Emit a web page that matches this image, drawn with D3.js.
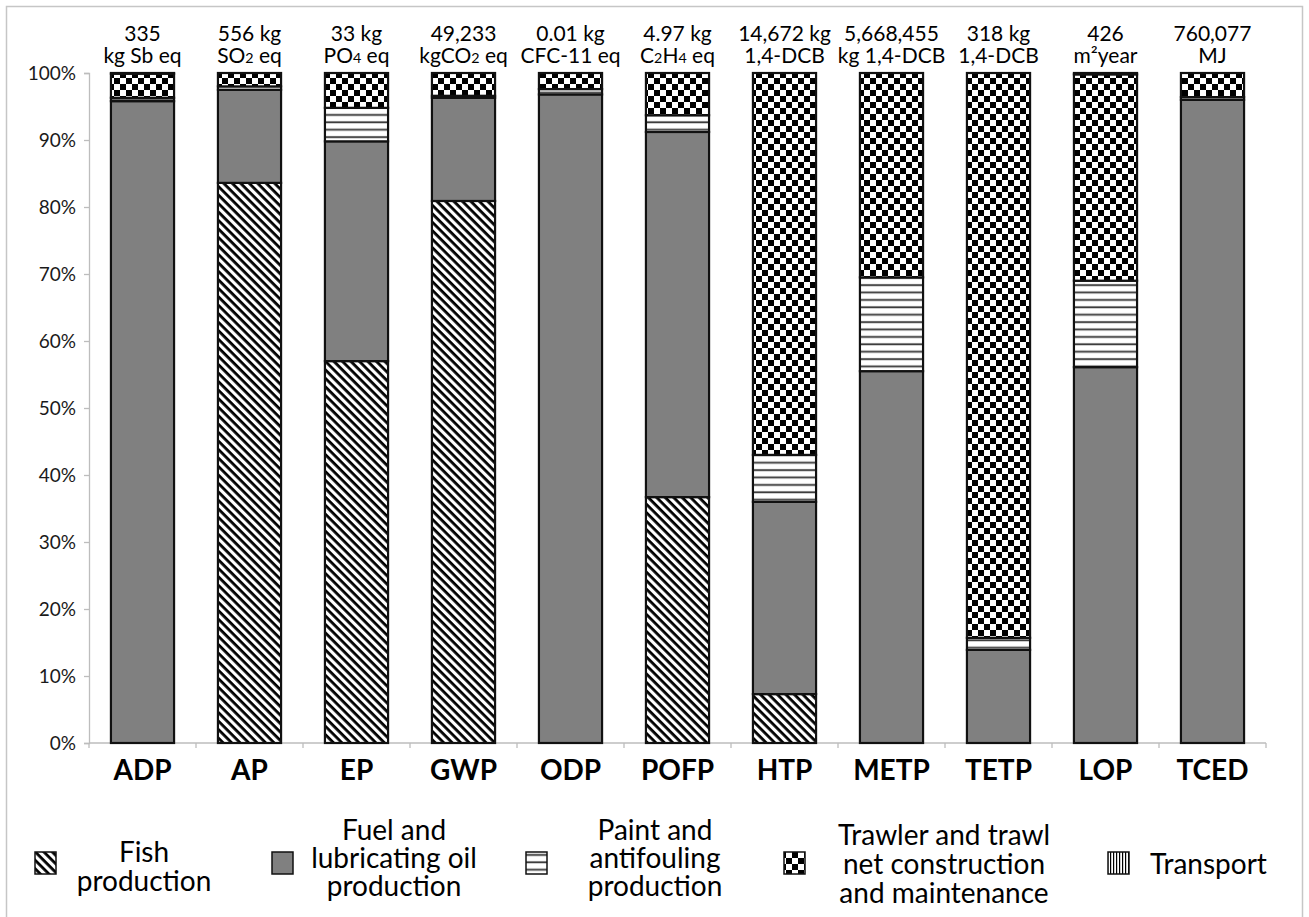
<!DOCTYPE html>
<html>
<head>
<meta charset="utf-8">
<script src="https://cdn.jsdelivr.net/npm/d3@7"></script>
<style>
  html, body { margin: 0; padding: 0; background: #fff; }
  svg { display: block; font-family: Lato, "Open Sans", sans-serif; }
</style>
</head>
<body>
<svg id="chart" width="1309" height="917"></svg>
<script>
// ---------------- data ----------------
const categories = ["ADP", "AP", "EP", "GWP", "ODP", "POFP", "HTP", "METP", "TETP", "LOP", "TCED"];
const totalLine1 = ["335", "556 kg", "33 kg", "49,233", "0.01 kg", "4.97 kg", "14,672 kg", "5,668,455", "318 kg", "426", "760,077"];
const totalLine2 = ["kg Sb eq", "SO₂ eq", "PO₄ eq", "kgCO₂ eq", "CFC-11 eq", "C₂H₄ eq", "1,4-DCB", "kg 1,4-DCB", "1,4-DCB", "m²year", "MJ"];

const seriesNames = ["Fish production", "Fuel and lubricating oil production", "Paint and antifouling production", "Trawler and trawl net construction and maintenance", "Transport"];
const fishProduction   = [0,    83.6, 57.0, 80.9, 0,    36.7, 7.3,  0,    0,    0,    0];
const fuelProduction   = [95.8, 13.9, 32.8, 15.4, 96.8, 54.5, 28.7, 55.5, 13.9, 56.1, 96.0];
const paintProduction  = [0.5,  0.5,  5.0,  0.3,  0.8,  2.5,  7.0,  14.0, 1.8,  12.9, 0.4];
const trawlerConstruct = [3.6,  2.0,  5.2,  3.4,  2.4,  6.3,  57.0, 30.5, 84.3, 30.8, 3.6];
const transport        = [0.1,  0,    0,    0,    0,    0,    0,    0,    0,    0.2,  0];

const yTicks = [0, 10, 20, 30, 40, 50, 60, 70, 80, 90, 100];
const legendLines = [["Fish", "production"], ["Fuel and", "lubricating oil", "production"], ["Paint and", "antifouling", "production"], ["Trawler and trawl", "net construction", "and maintenance"], ["Transport"]];

// ---------------- build ----------------
const seriesArrays = [fishProduction, fuelProduction, paintProduction, trawlerConstruct, transport];
const keys = ["fish", "fuel", "paint", "trawler", "transport"];
const rows = categories.map((c, i) => {
  const r = { cat: c };
  keys.forEach((k, j) => r[k] = seriesArrays[j][i]);
  return r;
});
const stacked = d3.stack().keys(keys)(rows);

const svg = d3.select("#chart");
const defs = svg.append("defs");

// patterns
const pFish = defs.append("pattern").attr("id", "pat-fish").attr("patternUnits", "userSpaceOnUse")
  .attr("width", 6).attr("height", 6).attr("patternTransform", "rotate(45)");
pFish.append("rect").attr("width", 6).attr("height", 6).attr("fill", "#fff");
pFish.append("rect").attr("width", 6).attr("height", 2.8).attr("fill", "#000");

const pPaint = defs.append("pattern").attr("id", "pat-paint").attr("patternUnits", "userSpaceOnUse")
  .attr("width", 8).attr("height", 7.4);
pPaint.append("rect").attr("width", 8).attr("height", 7.4).attr("fill", "#fff");
pPaint.append("rect").attr("y", 2.6).attr("width", 8).attr("height", 2.6).attr("fill", "#c8c8c8");
pPaint.append("rect").attr("y", 3.1).attr("width", 8).attr("height", 1.6).attr("fill", "#3a3a3a");

const pChk = defs.append("pattern").attr("id", "pat-trawler").attr("patternUnits", "userSpaceOnUse")
  .attr("width", 12).attr("height", 12);
pChk.append("rect").attr("width", 12).attr("height", 12).attr("fill", "#fff");
pChk.append("rect").attr("x", 0).attr("y", 0).attr("width", 6).attr("height", 6).attr("fill", "#000");
pChk.append("rect").attr("x", 6).attr("y", 6).attr("width", 6).attr("height", 6).attr("fill", "#000");

const pTr = defs.append("pattern").attr("id", "pat-transport").attr("patternUnits", "userSpaceOnUse")
  .attr("width", 3).attr("height", 3);
pTr.append("rect").attr("width", 3).attr("height", 3).attr("fill", "#fff");
pTr.append("rect").attr("width", 1.2).attr("height", 3).attr("fill", "#000");

const fills = { fish: "url(#pat-fish)", fuel: "#808080", paint: "url(#pat-paint)", trawler: "url(#pat-trawler)", transport: "url(#pat-transport)" };

// frame
svg.append("rect").attr("x", 6.5).attr("y", 6.5).attr("width", 1296).attr("height", 930)
  .attr("fill", "none").attr("stroke", "#c6c6c6").attr("stroke-width", 1.5);

// scales
const x = d3.scaleBand().domain(categories).range([89, 1266]).paddingInner(0.41).paddingOuter(0.205);
const y = d3.scaleLinear().domain([0, 100]).range([743, 73]);

// y axis
const yAxis = svg.append("g").attr("transform", "translate(89,0)")
  .call(d3.axisLeft(y).tickValues(yTicks).tickFormat(d => d + "%").tickSize(5).tickPadding(8));
yAxis.select(".domain").attr("stroke", "#bdbdbd").attr("stroke-width", 1.3);
yAxis.selectAll(".tick line").attr("stroke", "#bdbdbd").attr("stroke-width", 1.3);
yAxis.selectAll(".tick text").attr("font-size", 19).attr("fill", "#1a1a1a").attr("font-family", "Lato");

// x axis line and boundary ticks
svg.append("line").attr("x1", x.range()[0]).attr("x2", x.range()[1]).attr("y1", y(0)).attr("y2", y(0))
  .attr("stroke", "#bdbdbd").attr("stroke-width", 1.3);
const bounds = d3.range(categories.length + 1).map(i => x.range()[0] + i * x.step());
svg.selectAll(".xtick").data(bounds).join("line").attr("class", "xtick")
  .attr("x1", d => d).attr("x2", d => d).attr("y1", y(0)).attr("y2", y(0) + 5)
  .attr("stroke", "#bdbdbd").attr("stroke-width", 1.3);

// bars
const layers = svg.append("g").selectAll("g").data(stacked).join("g")
  .attr("fill", d => fills[d.key]);
layers.selectAll("rect").data(d => d.filter(s => s[1] - s[0] > 0)).join("rect")
  .attr("x", d => x(d.data.cat))
  .attr("width", x.bandwidth())
  .attr("y", d => y(d[1]))
  .attr("height", d => y(d[0]) - y(d[1]))
  .attr("stroke", "#111").attr("stroke-width", 2.2);

// category labels
svg.append("g").selectAll("text").data(categories).join("text")
  .attr("x", d => x(d) + x.bandwidth() / 2).attr("y", 780)
  .attr("text-anchor", "middle").attr("font-size", 28).attr("font-weight", "bold").attr("fill", "#000")
  .text(d => d);

// total labels: one text element per column, two lines, small subscripts
const subMap = { "₀": "0", "₁": "1", "₂": "2", "₃": "3", "₄": "4" };
function richLine(textSel, str, size, cx, dy) {
  let buf = "", isSub = false, first = true;
  const flush = () => {
    if (!buf) return;
    const ts = textSel.append("tspan").attr("font-size", isSub ? size * 0.68 : size).text(buf);
    if (first) { ts.attr("x", cx).attr("dy", dy); first = false; }
    buf = "";
  };
  for (const ch of str) {
    const sub = subMap[ch] !== undefined;
    if (sub !== isSub) { flush(); isSub = sub; }
    buf += sub ? subMap[ch] : ch;
  }
  flush();
}
const tops = svg.append("g");
categories.forEach((c, i) => {
  const cx = x(c) + x.bandwidth() / 2;
  const t = tops.append("text").attr("x", cx).attr("y", 41).attr("text-anchor", "middle")
    .attr("font-size", 21).attr("fill", "#000");
  t.append("tspan").attr("x", cx).attr("dy", 0).text(totalLine1[i]);
  richLine(t, totalLine2[i], 21, cx, 22);
});

// legend
const legendSw = [35, 272, 526, 784, 1108];
const legendTx = [144, 394, 655, 944, null];
const legendTop = [862, 840, 840, 845, 874];
const legendGap = [29, 28, 28, 29, 0];
const lg = svg.append("g");
keys.forEach((k, i) => {
  lg.append("rect").attr("x", legendSw[i]).attr("y", 852).attr("width", 21).attr("height", 22)
    .attr("fill", fills[k]).attr("stroke", "#111").attr("stroke-width", 1.5);
  const tx = legendTx[i] === null ? legendSw[i] + 42 : legendTx[i];
  const t = lg.append("text").attr("x", tx).attr("y", legendTop[i]).attr("font-size", 28).attr("fill", "#000")
    .attr("text-anchor", legendTx[i] === null ? "start" : "middle");
  legendLines[i].forEach((ln, j) => {
    t.append("tspan").attr("x", tx).attr("dy", j === 0 ? 0 : legendGap[i]).text(ln);
  });
});
</script>
</body>
</html>
